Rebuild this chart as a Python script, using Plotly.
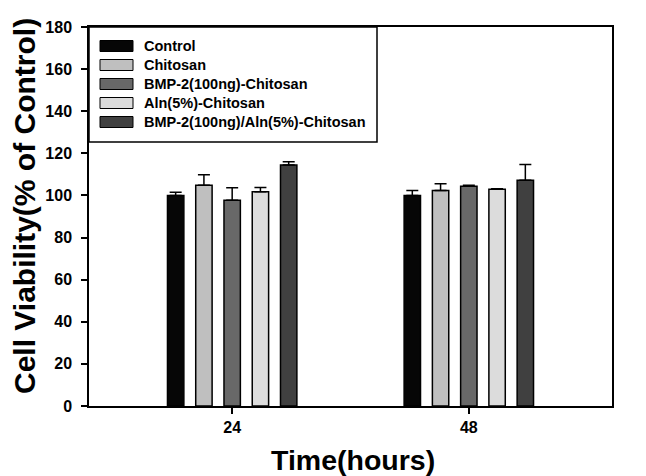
import plotly.graph_objects as go

# data
times = ["24", "48"]
groups = [
    "Control",
    "Chitosan",
    "BMP-2(100ng)-Chitosan",
    "Aln(5%)-Chitosan",
    "BMP-2(100ng)/Aln(5%)-Chitosan",
]
control = [100.0, 100.0]
chitosan = [104.8, 102.3]
bmp2 = [97.7, 104.4]
aln = [101.8, 102.9]
bmp2_aln = [114.5, 107.2]
control_err = [1.5, 2.4]
chitosan_err = [5.0, 3.2]
bmp2_err = [6.0, 0.5]
aln_err = [2.0, 0.3]
bmp2_aln_err = [1.5, 7.5]

values = [control, chitosan, bmp2, aln, bmp2_aln]
errors = [control_err, chitosan_err, bmp2_err, aln_err, bmp2_aln_err]
colors = ["#060606", "#bfbfbf", "#686868", "#dcdcdc", "#404040"]

FONT = "Arial, Liberation Sans, sans-serif"
W, H = 646, 476
# plot area in pixels
L, R, T, B = 89, 612, 27, 406


def px(x):
    return (x - L) / (R - L)


def py(y):
    return (B - y) / (B - T)


fig = go.Figure()
for name, vals, errs, col in zip(groups, values, errors, colors):
    fig.add_trace(
        go.Bar(
            x=times,
            y=vals,
            name=name,
            marker={"color": col, "line": {"color": "black", "width": 1.5}},
            error_y={
                "type": "data",
                "array": errs,
                "arrayminus": [0] * len(errs),
                "symmetric": False,
                "color": "black",
                "thickness": 1.5,
                "width": 6,
            },
            showlegend=False,
        )
    )

# legend drawn by hand so the swatches look like the SigmaPlot ones
shapes = [
    {
        "type": "rect",
        "xref": "paper",
        "yref": "paper",
        "x0": 0,
        "x1": px(377),
        "y0": py(142),
        "y1": 1,
        "line": {"color": "black", "width": 1.5},
        "fillcolor": "white",
        "layer": "above",
    }
]
annotations = []
for i, (name, col) in enumerate(zip(groups, colors)):
    yc = 46 + 19 * i
    shapes.append(
        {
            "type": "rect",
            "xref": "paper",
            "yref": "paper",
            "x0": px(100),
            "x1": px(133),
            "y0": py(yc + 5.5),
            "y1": py(yc - 5.5),
            "line": {"color": "black", "width": 1},
            "fillcolor": col,
            "layer": "above",
        }
    )
    annotations.append(
        {
            "xref": "paper",
            "yref": "paper",
            "x": px(142),
            "y": py(yc),
            "xanchor": "left",
            "yanchor": "middle",
            "text": name,
            "showarrow": False,
            "font": {"family": FONT, "size": 14.5, "color": "black", "weight": "bold"},
        }
    )

# axis titles as annotations so they sit where SigmaPlot put them
annotations.append(
    {
        "xref": "paper",
        "yref": "paper",
        "x": px(353),
        "y": py(460),
        "xanchor": "center",
        "yanchor": "middle",
        "text": "Time(hours)",
        "showarrow": False,
        "font": {"family": FONT, "size": 28.5, "color": "black", "weight": "bold"},
    }
)
annotations.append(
    {
        "xref": "paper",
        "yref": "paper",
        "x": px(24),
        "y": py(206),
        "xanchor": "center",
        "yanchor": "middle",
        "textangle": -90,
        "text": "Cell Viability(% of Control)",
        "showarrow": False,
        "font": {"family": FONT, "size": 30, "color": "black", "weight": "bold"},
    }
)

fig.update_layout(
    width=W,
    height=H,
    margin={"l": L, "r": W - R, "t": T, "b": H - B},
    paper_bgcolor="white",
    plot_bgcolor="white",
    barmode="group",
    bargap=0.403,
    bargroupgap=0.42,
    shapes=shapes,
    annotations=annotations,
    font={"family": FONT, "color": "black"},
)
fig.update_xaxes(
    type="category",
    range=[-0.605, 1.605],
    automargin=False,
    showline=True,
    mirror=True,
    linecolor="black",
    linewidth=1.5,
    ticks="outside",
    ticklen=6,
    tickwidth=1.5,
    tickcolor="black",
    ticklabelstandoff=0,
    tickfont={"size": 16, "weight": "bold"},
    showgrid=False,
)
fig.update_yaxes(
    range=[0, 180],
    dtick=20,
    automargin=False,
    showline=True,
    mirror=True,
    linecolor="black",
    linewidth=1.5,
    ticks="outside",
    ticklen=6,
    tickwidth=1.5,
    tickcolor="black",
    ticklabelstandoff=6,
    tickfont={"size": 16, "weight": "bold"},
    showgrid=False,
    zeroline=False,
)

# the page body has a default 8px margin, drop it so the figure fills the window
fig.write_html(
    "out.html",
    config={"displayModeBar": False},
    post_script="document.body.style.margin = '0';",
)
